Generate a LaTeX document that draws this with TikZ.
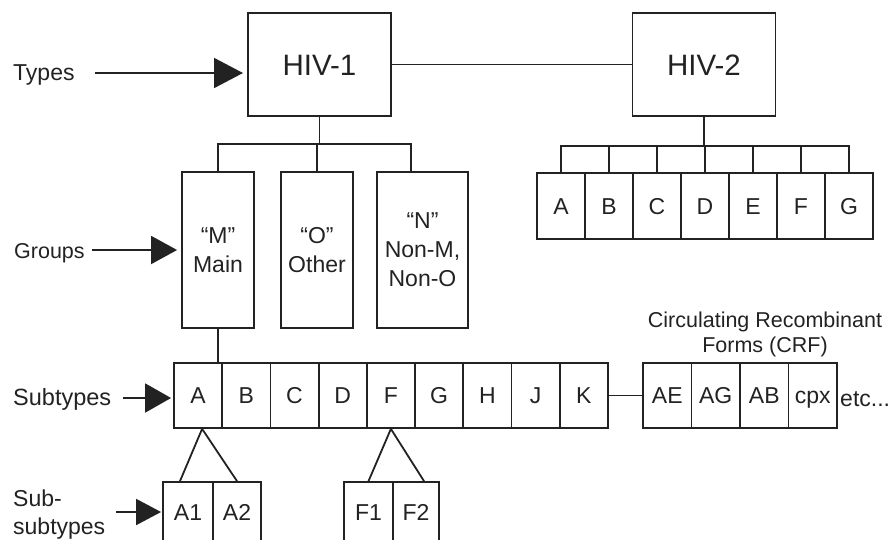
\documentclass[tikz,border=0pt]{standalone}
\usepackage{fontspec}
\setmainfont{Liberation Sans}
\usetikzlibrary{arrows.meta,calc}
\definecolor{ink}{HTML}{222222}
\begin{document}
\begin{tikzpicture}[x=1pt,y=-1pt,
  ln/.style={draw=ink,line width=1.8pt},
  cellbox/.style={draw=ink,line width=1.8pt,inner sep=0pt,text=ink,font=\fontsize{23}{29}\selectfont,text height=16.5pt,text depth=0pt},
  grpbox/.style={draw=ink,line width=1.8pt,inner sep=0pt,text=ink,font=\fontsize{23}{29}\selectfont,align=center,minimum width=72pt,minimum height=156pt},
  hivbox/.style={draw=ink,line width=1.8pt,inner sep=0pt,text=ink,font=\fontsize{29.5}{34}\selectfont,text height=21.1pt,text depth=0pt,minimum width=143pt,minimum height=103pt},
  lbl/.style={text=ink,font=\fontsize{23}{29}\selectfont,inner sep=0pt},
]
\useasboundingbox (0,0) rectangle (893,539);

% Types
\node[hivbox] (hiv1) at (319.5,64.5) {HIV-1};
\node[hivbox] (hiv2) at (704,64.5) {HIV-2};
\draw[ln] (hiv1.east) -- (hiv2.west);

% HIV-2 subtypes
\foreach \t [count=\i] in {A,B,C,D,E,F,G}
  \node[cellbox,minimum width=48pt,minimum height=66pt] (h\i) at ({537+48*(\i-0.5)},206) {\t};
\coordinate (bar2) at (0,146);
\draw[ln] (hiv2.south) -- (hiv2.south |- bar2);
\draw[ln] (h1.north) |- (h7.north |- bar2) -- (h7.north);
\foreach \i in {2,...,6}
  \draw[ln] (h\i.north) -- (h\i.north |- bar2);

% Groups
\node[grpbox] (gm) at (218,250) {“M”\\Main};
\node[grpbox] (go) at (317,250) {“O”\\Other};
\node[grpbox,minimum width=91pt] (gn) at (422.5,250) {“N”\\Non-M,\\Non-O};
\coordinate (bar1) at (0,144);
\coordinate (ndrop) at (411,172);
\draw[ln] (hiv1.south) -- (hiv1.south |- bar1);
\draw[ln] (gm.north) |- (ndrop |- bar1) -- (ndrop);
\draw[ln] (go.north) -- (go.north |- bar1);

% Subtypes
\foreach \t [count=\i] in {A,B,C,D,F,G,H,J,K}
  \node[cellbox,minimum width=48.2pt,minimum height=65pt] (s\i) at ({174+48.2*(\i-0.5)},395.5) {\t};
\draw[ln] (gm.south) -- (gm.south |- s1.north);

% CRF
\foreach \t [count=\i] in {AE,AG,AB,cpx}
  \node[cellbox,minimum width=48.5pt,minimum height=65pt] (c\i) at ({643+48.5*(\i-0.5)},395.5) {\t};
\draw[ln] (s9.east) -- (c1.west);
\node[lbl,font=\fontsize{21.5}{25}\selectfont,align=center] (crf) at (765,334) {Circulating Recombinant\\Forms (CRF)};
\node[lbl,anchor=base west] (etc) at (840,406) {etc...};

% Sub-subtypes
\node[cellbox,minimum width=50pt,minimum height=60pt] (a1) at (188,512) {A1};
\node[cellbox,minimum width=48pt,minimum height=60pt] (a2) at (237,512) {A2};
\node[cellbox,minimum width=49pt,minimum height=60pt] (f1) at (368.5,512) {F1};
\node[cellbox,minimum width=46pt,minimum height=60pt] (f2) at (416,512) {F2};
\draw[ln] ([xshift=-8pt]a1.north) -- ([xshift=4pt]s1.south) -- (a2.north);
\draw[ln] (f1.north) -- (s5.south) -- ([xshift=8pt]f2.north);

% Level labels and arrows
\node[lbl,anchor=base west] (ltypes) at (13,80) {Types};
\node[lbl,anchor=base west,font=\fontsize{21.5}{29}\selectfont] (lgroups) at (14,258) {Groups};
\node[lbl,anchor=base west,font=\fontsize{23.5}{29}\selectfont] (lsub) at (13,405) {Subtypes};
\node[lbl,anchor=west,align=left,font=\fontsize{23}{28}\selectfont] (lsubsub) at (13,515) {Sub-\\subtypes};

\draw[ln,-{Triangle[length=29pt,width=30pt]}] ([xshift=20pt]ltypes.east |- 0,73) -- (243,73);
\draw[ln,-{Triangle[length=26pt,width=28pt]}] (92,250) -- ([xshift=-4pt]gm.west);
\draw[ln,-{Triangle[length=26pt,width=29pt]}] ([xshift=12pt]lsub.east |- 0,398) -- ([xshift=-2pt]s1.west |- 0,398);
\draw[ln,-{Triangle[length=25pt,width=26pt]}] (116,512) -- ([xshift=-1pt]a1.west);
\end{tikzpicture}
\end{document}
